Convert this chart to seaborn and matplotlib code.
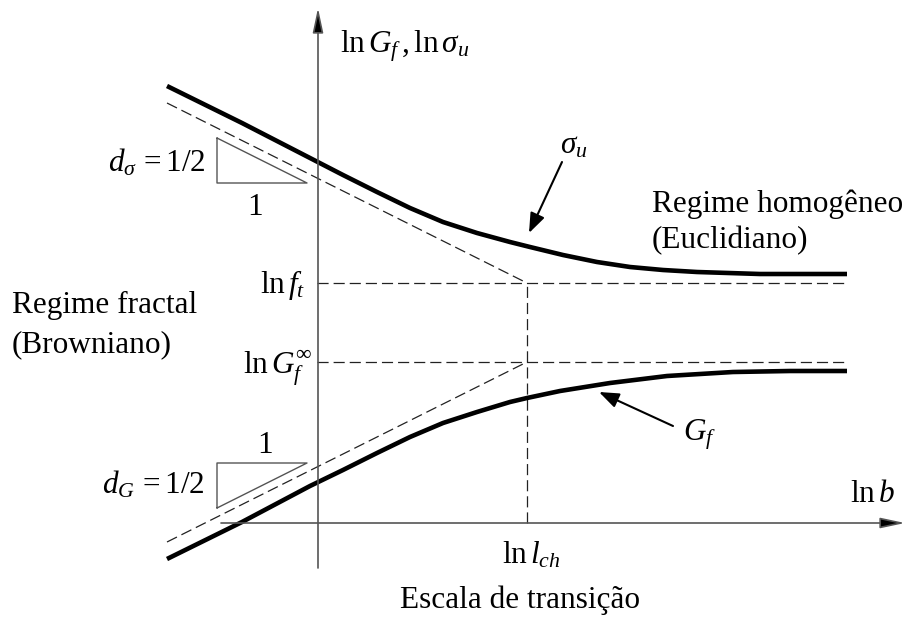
import matplotlib
matplotlib.use("Agg")
import matplotlib.pyplot as plt
import seaborn as sns
import pandas as pd

# Schematic of the multifractal scaling law (MFSL): log-log size effect
# on tensile strength sigma_u and fracture energy G_f.

# upper curve: ln sigma_u against ln b
ln_b_sigma = [-1.5, -0.75, -0.07, 0.26, 0.6, 0.93, 1.26, 1.6, 1.93, 2.13,
              2.46, 2.8, 3.13, 3.46, 3.8, 4.43, 5.3]
ln_sigma_u = [4.37, 4.00, 3.65, 3.48, 3.31, 3.15, 3.01, 2.90, 2.81, 2.76,
              2.68, 2.61, 2.56, 2.53, 2.51, 2.49, 2.49]
# lower curve: ln G_f against ln b
ln_b_G = [-1.5, -0.75, -0.07, 0.26, 0.6, 0.93, 1.26, 1.6, 1.93, 2.1,
          2.43, 2.93, 3.5, 4.16, 4.73, 5.3]
ln_G_f = [-0.36, 0.01, 0.37, 0.53, 0.70, 0.86, 1.00, 1.11, 1.21, 1.25,
          1.32, 1.40, 1.47, 1.51, 1.52, 1.52]

# reference levels
ln_ft = 2.40        # ln f_t
ln_Gf_inf = 1.61    # ln G_f^inf
ln_lch = 2.10       # ln l_ch
d_sigma = 0.5       # slope of the fractal asymptote of sigma_u
d_G = 0.5           # slope of the fractal asymptote of G_f

sns.set_theme(style="white")
plt.rcParams["font.family"] = ["Liberation Serif", "DejaVu Serif"]
plt.rcParams["mathtext.fontset"] = "custom"
plt.rcParams["mathtext.rm"] = "Liberation Serif"
plt.rcParams["mathtext.it"] = "Liberation Serif:italic"
plt.rcParams["mathtext.bf"] = "Liberation Serif:bold"
plt.rcParams["lines.scale_dashes"] = False

fig = plt.figure(figsize=(9.12, 6.19), dpi=100)
ax = fig.add_axes([0, 0, 1, 1])
ax.set_xlim(-3.17, 5.95)
ax.set_ylim(-0.96, 5.23)
ax.axis("off")

df_sigma = pd.DataFrame({"ln_b": ln_b_sigma, "value": ln_sigma_u})
df_G = pd.DataFrame({"ln_b": ln_b_G, "value": ln_G_f})

# coordinate axes with arrow heads
axis_col = "#555555"
axis_arrow = dict(arrowstyle="-|>,head_length=1.5,head_width=0.32",
                  lw=1.2, fc="black", ec=axis_col,
                  mutation_scale=10, shrinkA=0, shrinkB=0)
ax.annotate("", xy=(0.01, 5.15), xytext=(0.01, -0.45), arrowprops=axis_arrow)
ax.annotate("", xy=(5.88, 0.0), xytext=(-0.96, 0.0), arrowprops=axis_arrow)

dash = (0, (8, 3.6))
dash_kw = dict(color="#222222", lw=0.9, linestyle=dash)

# horizontal asymptotes of the homogeneous regime
x_end = ln_b_sigma[-1]
ax.plot([0, x_end], [ln_ft, ln_ft], **dash_kw)
ax.plot([0, x_end], [ln_Gf_inf, ln_Gf_inf], **dash_kw)
# transition scale
ax.plot([ln_lch, ln_lch], [0, ln_ft], **dash_kw)

# fractal asymptotes, slope -d_sigma and +d_G, meeting at ln l_ch
x0 = ln_b_sigma[0]
ax.plot([x0, ln_lch], [ln_ft + d_sigma * (ln_lch - x0), ln_ft], **dash_kw)
ax.plot([x0, ln_lch], [ln_Gf_inf - d_G * (ln_lch - x0), ln_Gf_inf], **dash_kw)

# the two curves
for d in (df_sigma, df_G):
    sns.lineplot(data=d, x="ln_b", y="value", ax=ax, color="black", lw=3.3,
                 sort=False, estimator=None, solid_joinstyle="round",
                 solid_capstyle="butt")
ax.set_xlabel("")
ax.set_ylabel("")

# slope triangles
tri_col = "#555555"
tx0, tw = -1.0, 0.9
ty = 3.40
ax.plot([tx0, tx0, tx0 + tw, tx0], [ty + d_sigma * tw, ty, ty, ty + d_sigma * tw],
        color=tri_col, lw=1.0)
gy = 0.15
ax.plot([tx0, tx0, tx0 + tw, tx0], [gy, gy + d_G * tw, gy + d_G * tw, gy],
        color=tri_col, lw=1.0)

fs = 22.5
txt = dict(fontsize=fs, color="black", va="baseline")
ax.text(0.23, 4.71, r"$\mathrm{ln}\,G_f\,,\mathrm{ln}\,\sigma_u$", ha="left", **txt)
ax.text(2.43, 3.70, r"$\sigma_u$", ha="left", **txt)
ax.text(3.35, 3.11, "Regime homogêneo", ha="left", **txt)
ax.text(3.35, 2.75, "(Euclidiano)", ha="left", **txt)
ax.text(-1.11, 3.51, r"$d_\sigma\,{=}1/2$", ha="right", **txt)
ax.text(-0.62, 3.08, "1", ha="center", **txt)
ax.text(-0.12, 2.30, r"$\mathrm{ln}\,f_t$", ha="right", **txt)
ax.text(-3.05, 2.10, "Regime fractal", ha="left", **txt)
ax.text(-3.05, 1.71, "(Browniano)", ha="left", **txt)
ax.text(-0.05, 1.50, r"$\mathrm{ln}\,G_f^{\infty}$", ha="right", **txt)
ax.text(-0.52, 0.70, "1", ha="center", **txt)
ax.text(-1.12, 0.30, r"$d_G\,{=}1/2$", ha="right", **txt)
ax.text(3.66, 0.83, r"$G_f$", ha="left", **txt)
ax.text(5.33, 0.21, r"$\mathrm{ln}\,b$", ha="left", **txt)
ax.text(1.85, -0.40, r"$\mathrm{ln}\,l_{ch}$", ha="left", **txt)
ax.text(2.03, -0.85, "Escala de transição", ha="center", **txt)

# pointer arrows to the curves
ptr = dict(arrowstyle="-|>,head_length=1.0,head_width=0.38", lw=1.5,
           color="black", mutation_scale=12, shrinkA=0, shrinkB=0)
ax.annotate("", xy=(2.12, 2.90), xytext=(2.45, 3.61), arrowprops=ptr)
ax.annotate("", xy=(2.82, 1.31), xytext=(3.56, 0.97), arrowprops=ptr)

fig.savefig("out.png", dpi=100)
